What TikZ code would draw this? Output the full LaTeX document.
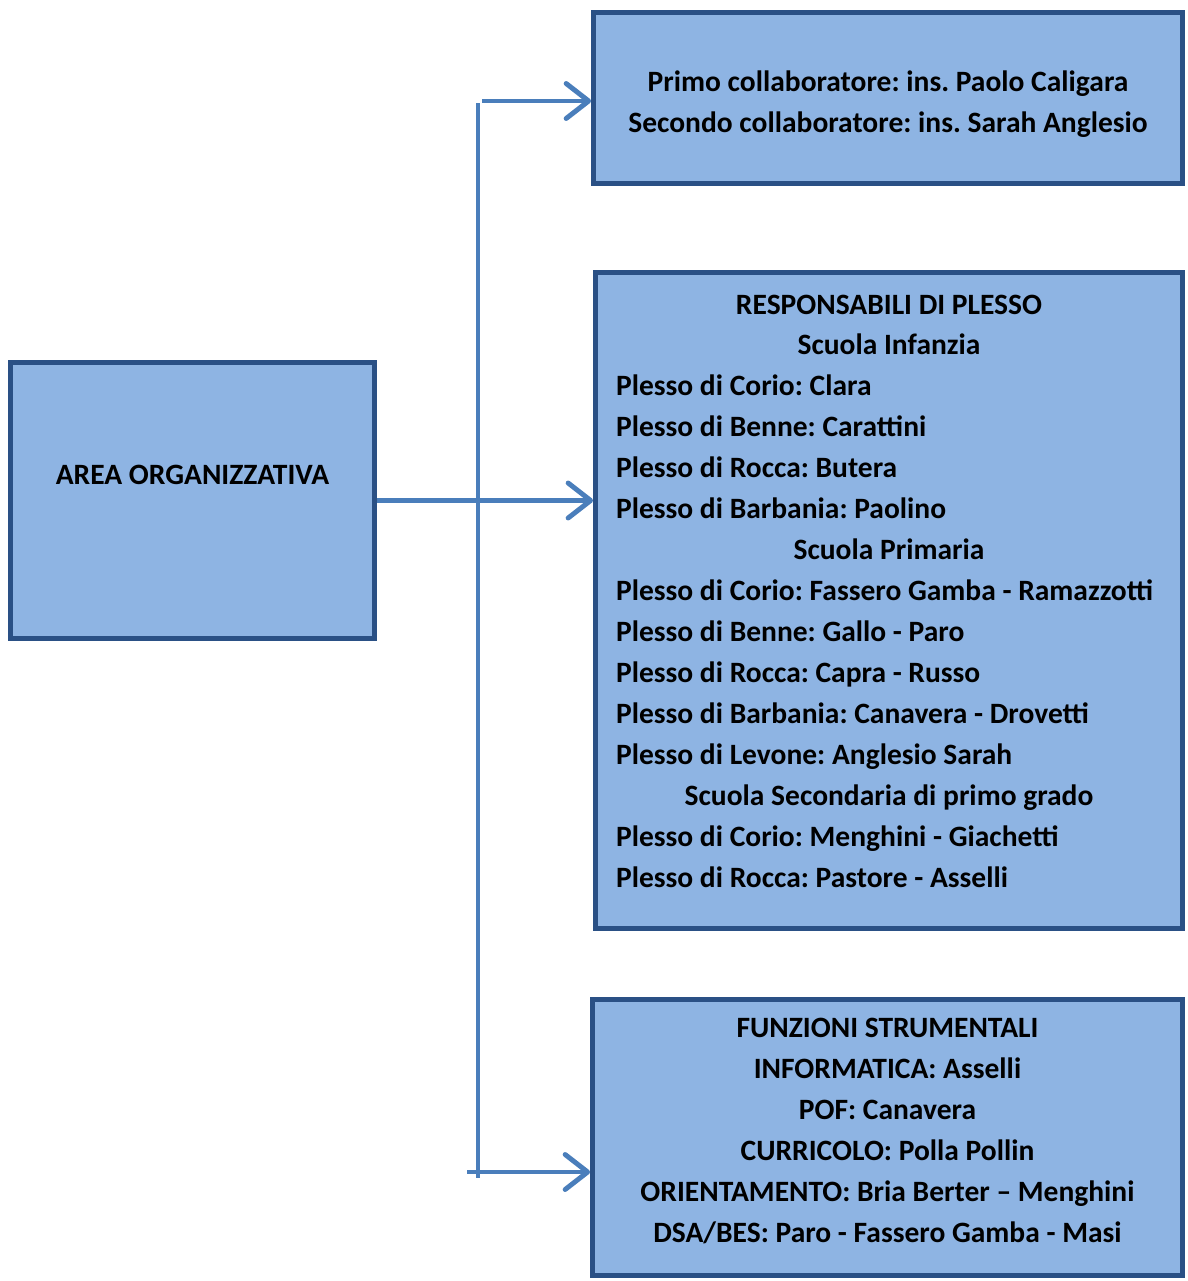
\documentclass[tikz,border=0pt]{standalone}
\usepackage{fontspec}
\setmainfont{Carlito}
\usetikzlibrary{arrows.meta,calc,positioning}
\definecolor{boxfill}{HTML}{8EB4E3}
\definecolor{boxline}{HTML}{2A5085}
\definecolor{connblue}{HTML}{4A7EBB}
\setlength{\parindent}{0pt}
\frenchspacing
\newcommand{\ctrline}[1]{\makebox[\linewidth]{#1}}

\begin{document}
\begin{tikzpicture}[
    x=0.02cm, y=-0.02cm,
    box/.style={rectangle, draw=boxline, fill=boxfill, line width=2.8pt, inner sep=0pt},
    boxtext/.style={font=\bfseries\fontsize{16.8}{23.3}\selectfont, inner sep=0pt},
    conn/.style={draw=connblue, line width=2.8pt},
    arr/.style={conn, -{Straight Barb[length=0.45cm, width=0.7cm, round]}}
    ]
    \useasboundingbox (0,0) rectangle (1187,1281);

    % --- left box ---
    \node[box, minimum width=7.28cm, minimum height=5.52cm] (area) at (192.5,500.5) {};
    \node[boxtext] (areatext) at (192.5,475) {AREA ORGANIZZATIVA};

    % --- right boxes ---
    \node[box, minimum width=11.78cm, minimum height=3.42cm] (collab) at (888,98) {};
    \node[boxtext, align=center] (collabtext) at (888,104)
        {Primo collaboratore: ins. Paolo Caligara\\Secondo collaboratore: ins. Sarah Anglesio};

    \node[box, minimum width=11.74cm, minimum height=13.12cm] (plesso) at (889,600.5) {};
    \node[boxtext] (plessotext) at (889,591) {%
        \begin{minipage}{10.92cm}\raggedright
        \ctrline{RESPONSABILI DI PLESSO}\\
        \ctrline{Scuola Infanzia}\\
        Plesso di Corio: Clara\\
        Plesso di Benne: Carattini\\
        Plesso di Rocca: Butera\\
        Plesso di Barbania: Paolino\\
        \ctrline{Scuola Primaria}\\
        Plesso di Corio: Fassero Gamba - Ramazzotti\\
        Plesso di Benne: Gallo - Paro\\
        Plesso di Rocca: Capra - Russo\\
        Plesso di Barbania: Canavera - Drovetti\\
        Plesso di Levone: Anglesio Sarah\\
        \ctrline{Scuola Secondaria di primo grado}\\
        Plesso di Corio: Menghini - Giachetti\\
        Plesso di Rocca: Pastore - Asselli
        \end{minipage}};

    \node[box, minimum width=11.8cm, minimum height=5.52cm] (funz) at (887.5,1137.5) {};
    \node[boxtext, align=center] (funztext) at (887.5,1131) {%
        FUNZIONI STRUMENTALI\\
        INFORMATICA: Asselli\\
        POF: Canavera\\
        CURRICOLO: Polla Pollin\\
        ORIENTAMENTO: Bria Berter – Menghini\\
        DSA/BES: Paro - Fassero Gamba - Masi};

    % --- connectors ---
    \coordinate (trunktop) at (478,103);
    \coordinate (trunkbot) at (478,1178);
    \coordinate (topstart) at (482,101);
    \coordinate (botstart) at (467,1172);
    \draw[conn] (trunktop) -- (trunkbot);
    \draw[arr] (topstart) -- (topstart -| collab.west);
    \draw[arr] (area.east) -- (area.east -| plesso.west);
    \draw[arr] (botstart) -- (botstart -| funz.west);
\end{tikzpicture}
\end{document}
